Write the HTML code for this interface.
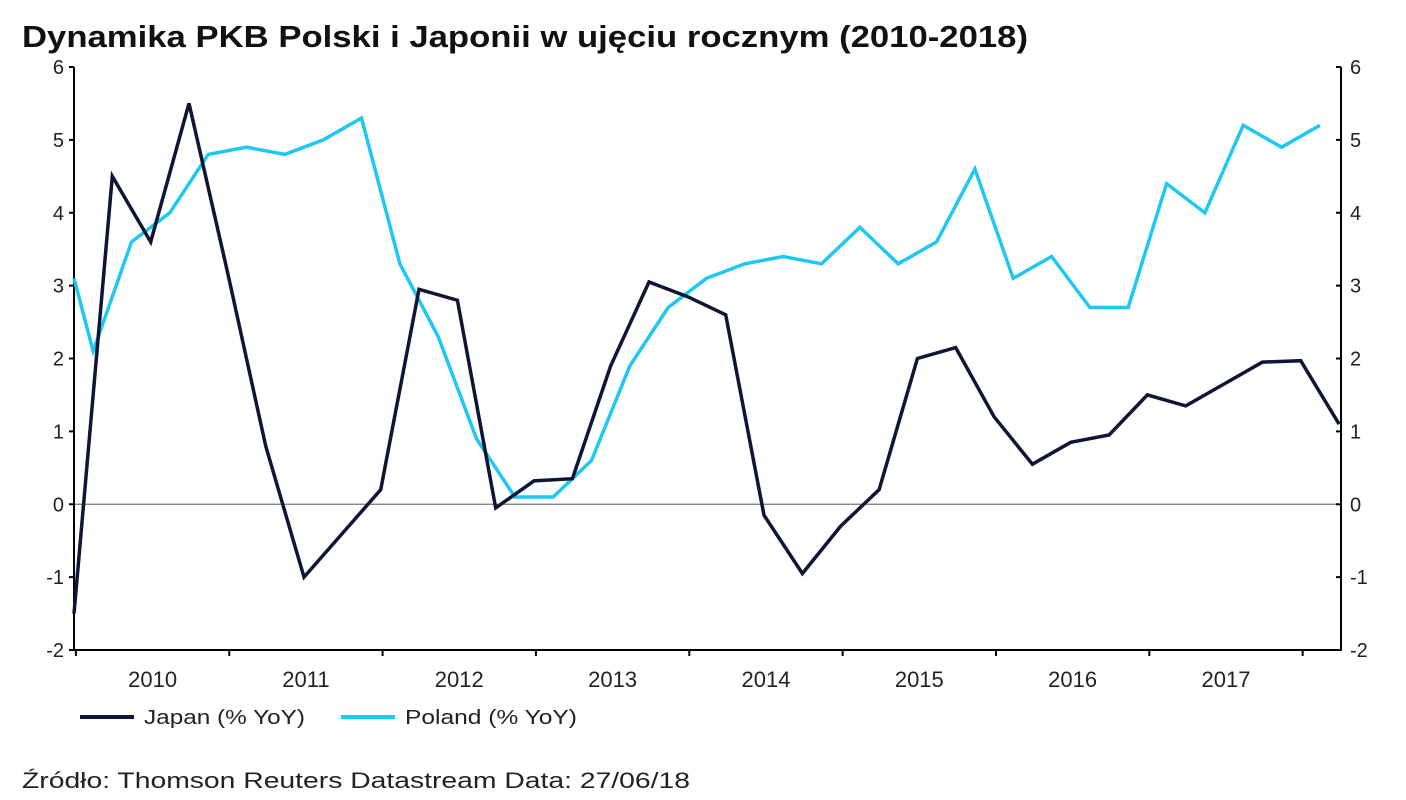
<!DOCTYPE html>
<html><head><meta charset="utf-8"><style>
body{margin:0;background:#fff;width:1406px;height:800px;overflow:hidden}
svg{display:block;font-family:"Liberation Sans",sans-serif}
</style></head><body>
<svg id="chart" width="1406" height="800">
<text x="22" y="47" font-size="31" font-weight="bold" fill="#111" textLength="1006" lengthAdjust="spacingAndGlyphs">Dynamika PKB Polski i Japonii w ujęciu rocznym (2010-2018)</text>
<g id="axes"></g>
<g id="series"></g>
<g>
<line x1="80" y1="717" x2="134" y2="717" stroke="#0f1535" stroke-width="4"/>
<text x="144" y="724" font-size="20" fill="#222" textLength="161" lengthAdjust="spacingAndGlyphs">Japan (% YoY)</text>
<line x1="341" y1="717" x2="395" y2="717" stroke="#1ec8f2" stroke-width="4"/>
<text x="405" y="724" font-size="20" fill="#222" textLength="172" lengthAdjust="spacingAndGlyphs">Poland (% YoY)</text>
</g>
<text x="22" y="788" font-size="22" fill="#222" textLength="668" lengthAdjust="spacingAndGlyphs">Źródło: Thomson Reuters Datastream Data: 27/06/18</text>
</svg>
<script>
const yTicks=[-2,-1,0,1,2,3,4,5,6];
const years=["2010","2011","2012","2013","2014","2015","2016","2017"];
const japanX=[0,1,2,3,4,5,6,7,8,9,10,11,12,13,14,15,16,17,18,19,20,21,22,23,24,25,26,27,28,29,30,31,32,33];
const japan=[-1.5,4.5,3.6,5.5,3.2,0.8,-1.0,-0.4,0.2,2.95,2.8,-0.05,0.32,0.35,1.9,3.05,2.85,2.6,-0.15,-0.95,-0.3,0.2,2.0,2.15,1.2,0.55,0.85,0.95,1.5,1.35,1.65,1.95,1.97,1.1];
const polandX=[0,0.5,1.5,2.5,3.5,4.5,5.5,6.5,7.5,8.5,9.5,10.5,11.5,12.5,13.5,14.5,15.5,16.5,17.5,18.5,19.5,20.5,21.5,22.5,23.5,24.5,25.5,26.5,27.5,28.5,29.5,30.5,31.5,32.5];
const poland=[3.1,2.1,3.6,4.0,4.8,4.9,4.8,5.0,5.3,3.3,2.3,0.9,0.1,0.1,0.6,1.9,2.7,3.1,3.3,3.4,3.3,3.8,3.3,3.6,4.6,3.1,3.4,2.7,2.7,4.4,4.0,5.2,4.9,5.2];
const L=74,R=1341,T=67,B=650;
const qw=(R-L)/33.05;
const X=q=>L+q*qw;
const Y=v=>B-(v+2)/8*(B-T);
const NS="http://www.w3.org/2000/svg";
function mk(tag,attrs,parent){const e=document.createElementNS(NS,tag);for(const k in attrs)e.setAttribute(k,attrs[k]);parent.appendChild(e);return e;}
const ax=document.getElementById('axes');
let e;
e=mk('line',{x1:L,y1:Y(0),x2:R,y2:Y(0),stroke:'#777','stroke-width':1.2},ax);


e=mk('line',{x1:L,y1:T,x2:L,y2:B+1,stroke:'#000','stroke-width':2},ax);


e=mk('line',{x1:R,y1:T,x2:R,y2:B+1,stroke:'#000','stroke-width':2},ax);


e=mk('line',{x1:L,y1:B,x2:R,y2:B,stroke:'#000','stroke-width':2},ax);


yTicks.forEach(v=>{
 const y=Y(v);
 mk('line',{x1:L-5,y1:y,x2:L,y2:y,stroke:'#000','stroke-width':2},ax);
 mk('line',{x1:R-5,y1:y,x2:R,y2:y,stroke:'#000','stroke-width':2},ax);
 e=mk('text',{x:L-10,y:y+7,'font-size':20,'text-anchor':'end',fill:'#222'},ax);
 e.textContent=v;
 
 
 e=mk('text',{x:R+9,y:y+7,'font-size':20,fill:'#222'},ax);
 e.textContent=v;
 
 
});
for(let i=0;i<=years.length;i++){
 const x=X(0.05+i*4);
 mk('line',{x1:x,y1:B,x2:x,y2:B+6,stroke:'#000','stroke-width':2},ax);
}
years.forEach((yr,i)=>{
 e=mk('text',{x:X(2.05+i*4),y:B+37,'font-size':22,'text-anchor':'middle',fill:'#222'},ax);
 e.textContent=yr;
 
 
});
const sg=document.getElementById('series');
function pts(xs,vs){return xs.map((q,i)=>X(q).toFixed(1)+','+Y(vs[i]).toFixed(1)).join(' ');}
e=mk('polyline',{points:pts(polandX,poland),fill:'none',stroke:'#1ec8f2','stroke-width':3.5,'stroke-linejoin':'miter'},sg);


e=mk('polyline',{points:pts(japanX,japan),fill:'none',stroke:'#0f1535','stroke-width':3.5,'stroke-linejoin':'miter'},sg);


</script>
</body></html>
